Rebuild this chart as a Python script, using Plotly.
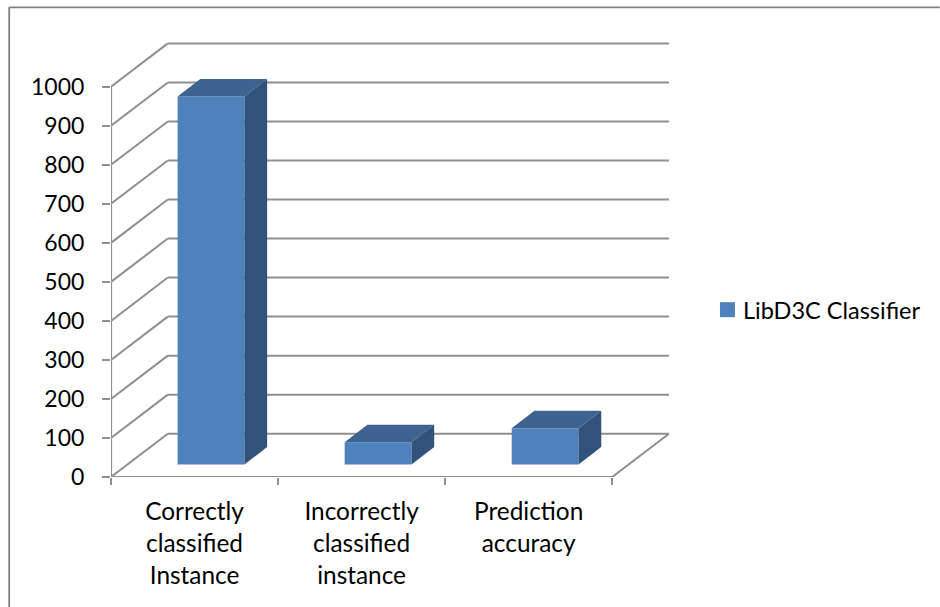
import plotly.graph_objects as go

# Chart data
categories = ["Correctly<br>classified<br>Instance", "Incorrectly<br>classified<br>instance", "Prediction<br>accuracy"]
values = [943, 57, 93]
series_name = "LibD3C Classifier"
value_ticks = [0, 100, 200, 300, 400, 500, 600, 700, 800, 900, 1000]

# Oblique projection: how far the full floor depth shifts a point, in axis units
DEPTH_X = 0.34
DEPTH_Y = 111.0
BAR_WIDTH = 0.4
BAR_NEAR = 0.29
BAR_FAR = 0.69

FRONT = "#4F81BD"
TOP = "#3E6391"
SIDE = "#31527A"
GRID = "#8F8F8F"
TEXT = "#000000"
FONT = "Lato"


def project(x, v, depth):
    return x + depth * DEPTH_X, v + depth * DEPTH_Y


fig = go.Figure()

# Front faces are true bars, moved back to the near edge of the bar slab
near_x, near_base = project(0, 0, BAR_NEAR)
fig.add_trace(go.Bar(
    x=[i + 0.5 + near_x for i in range(len(values))],
    y=values,
    base=[near_base] * len(values),
    width=BAR_WIDTH,
    marker=dict(color=FRONT, line=dict(width=0)),
    name=series_name,
    showlegend=False,
    hoverinfo="skip",
))


def add_face(points, color):
    xs, ys = zip(*points)
    fig.add_trace(go.Scatter(
        x=xs, y=ys, mode="lines", fill="toself", fillcolor=color,
        line=dict(width=0, color=color), showlegend=False, hoverinfo="skip",
    ))


# Top and side faces of each bar
for i, v in enumerate(values):
    left = i + 0.5 - BAR_WIDTH / 2
    right = i + 0.5 + BAR_WIDTH / 2
    add_face([project(left, v, BAR_NEAR), project(right, v, BAR_NEAR),
              project(right, v, BAR_FAR), project(left, v, BAR_FAR)], TOP)
    add_face([project(right, 0, BAR_NEAR), project(right, v, BAR_NEAR),
              project(right, v, BAR_FAR), project(right, 0, BAR_FAR)], SIDE)

# Wall and floor lines sit underneath the bars
n = len(categories)
shapes = []


def add_grid(p, q):
    shapes.append(dict(type="line", xref="x", yref="y", layer="below",
                       x0=p[0], y0=p[1], x1=q[0], y1=q[1],
                       line=dict(color=GRID, width=2)))


for v in value_ticks:
    add_grid(project(0, v, 0), project(0, v, 1))
    add_grid(project(0, v, 1), project(n, v, 1))
add_grid(project(n, 0, 0), project(n, 0, 1))


# Axis lines stop at the last tick, unlike the plot area edge
def add_axis_line(p, q):
    fig.add_trace(go.Scatter(
        x=[p[0], q[0]], y=[p[1], q[1]], mode="lines", cliponaxis=False,
        line=dict(color=GRID, width=2.2), showlegend=False, hoverinfo="skip",
    ))


add_axis_line((0, 0), (0, value_ticks[-1]))
add_axis_line((0, 0), (n, 0))

# Plot area placement in pixels, used for the margins and the paper-anchored items
PLOT_L, PLOT_W, PLOT_B, PLOT_H = 110.5, 568.5, 476.7, 440.7


def paper_x(px):
    return (px - PLOT_L) / PLOT_W


def paper_y(py):
    return (PLOT_B - py) / PLOT_H


# Chart frame, open on the right and bottom
for x0, y0, x1, y1 in [(8.6, 607, 8.6, 7.3), (8.6, 7.3, 940, 7.3)]:
    shapes.append(dict(type="line", xref="paper", yref="paper",
                       x0=paper_x(x0), y0=paper_y(y0), x1=paper_x(x1), y1=paper_y(y1),
                       line=dict(color="#808080", width=1.8)))

# Legend key and label
shapes.append(dict(type="rect", xref="paper", yref="paper",
                   x0=paper_x(720), x1=paper_x(735), y0=paper_y(317), y1=paper_y(302),
                   fillcolor=FRONT, line=dict(width=0)))
legend_label = dict(xref="paper", yref="paper", x=paper_x(742), y=paper_y(310),
                    xanchor="left", yanchor="middle", showarrow=False, text=series_name,
                    font=dict(family=FONT, size=23.5, color=TEXT), borderpad=0)

fig.update_layout(
    width=940, height=607,
    margin=dict(l=PLOT_L, r=940 - PLOT_L - PLOT_W, t=PLOT_B - PLOT_H, b=607 - PLOT_B, pad=0),
    paper_bgcolor="white", plot_bgcolor="white",
    shapes=shapes,
    annotations=[legend_label],
    showlegend=False,
    font=dict(family=FONT, size=23, color=TEXT),
    barmode="overlay",
    xaxis=dict(
        range=[0, 3.4], showgrid=False, zeroline=False, showline=False,
        tickmode="array", tickvals=[i + 0.5 for i in range(n)], ticktext=categories,
        ticks="", tickangle=0, ticklabelstandoff=18,
        tickfont=dict(family=FONT, size=24.4, color=TEXT),
        minor=dict(tickmode="array", tickvals=list(range(n + 1)), ticks="outside",
                   ticklen=7, tickwidth=2, tickcolor=GRID, showgrid=False),
    ),
    yaxis=dict(
        range=[0, 1130], showgrid=False, zeroline=False, showline=False,
        tickmode="array", tickvals=value_ticks,
        ticks="outside", ticklen=8, tickwidth=2, tickcolor=GRID,
        ticklabelstandoff=13,
        tickfont=dict(family=FONT, size=23, color=TEXT),
    ),
)

fig.write_html("out.html", config=dict(displayModeBar=False))
